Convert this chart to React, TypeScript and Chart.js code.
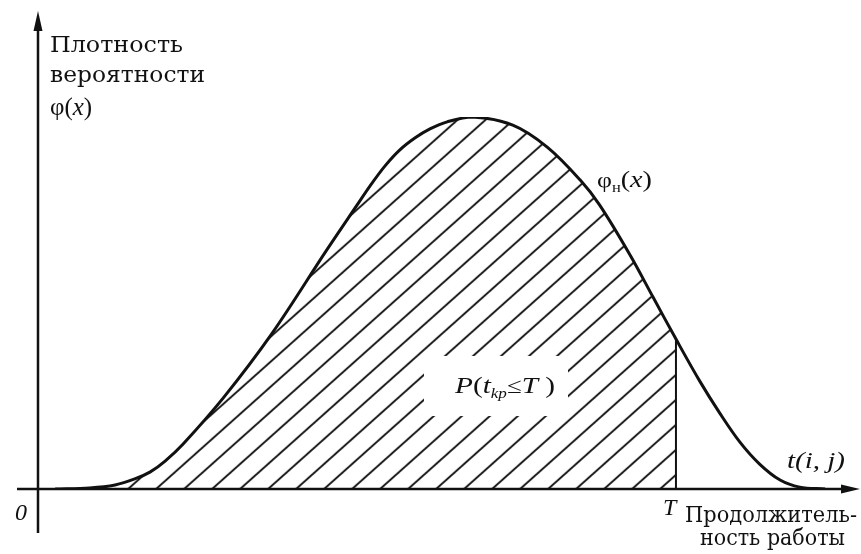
import React, { useEffect, useRef } from "react";
import { Chart, registerables } from "chart.js";

Chart.register(...registerables);

// Time axis (relative units, 0 at the density axis) and probability density (normalised, peak = 1)
const timeValues = [2.1, 6.3, 9.4, 11.8, 13.7, 15.5, 17.7, 22.6, 28.5, 35.2, 38.9, 40.5, 42.3, 44.1, 46.0, 47.8, 49.9, 53.0, 57.9, 62.1, 66.1, 68.5, 72.2, 75.0, 77.8, 80.7, 83.2, 85.6, 88.0, 90.5, 92.9, 96.0];
const densityValues = [0, 0.003, 0.011, 0.027, 0.046, 0.075, 0.121, 0.245, 0.417, 0.642, 0.763, 0.815, 0.868, 0.911, 0.944, 0.968, 0.987, 1.0, 0.978, 0.919, 0.831, 0.763, 0.629, 0.516, 0.403, 0.29, 0.202, 0.126, 0.067, 0.024, 0.005, 0];
const deadlineT = 77.8;

const yAxisTitle = ["Плотность", "вероятности"];
const xAxisTitle = ["Продолжитель-", "ность работы"];

const INK = "#111111";

type Part = { t: string; font: string; dy?: number };

function drawRun(ctx: CanvasRenderingContext2D, x: number, y: number, parts: Part[], targetW?: number) {
  let total = 0;
  for (const p of parts) {
    ctx.font = p.font;
    total += ctx.measureText(p.t).width;
  }
  const sx = targetW ? targetW / total : 1;
  ctx.save();
  ctx.translate(x, y);
  ctx.scale(sx, 1);
  let cx = 0;
  for (const p of parts) {
    ctx.font = p.font;
    ctx.fillText(p.t, cx, p.dy || 0);
    cx += ctx.measureText(p.t).width;
  }
  ctx.restore();
}

function makeHatch(): CanvasPattern | string {
  const W = 28;
  const H = 25;
  const c = document.createElement("canvas");
  c.width = W;
  c.height = H;
  const g = c.getContext("2d");
  if (!g) return "rgba(0,0,0,0.2)";
  g.strokeStyle = INK;
  g.lineWidth = 1.9;
  for (const ox of [-W, 0, W]) {
    g.beginPath();
    g.moveTo(ox - W, 2 * H);
    g.lineTo(ox + 2 * W, -H);
    g.stroke();
  }
  const pat = g.createPattern(c, "repeat");
  if (!pat) return "rgba(0,0,0,0.2)";
  try {
    pat.setTransform(new DOMMatrix([1, 0, 0, 1, 3.7, 0]));
  } catch (e) {}
  return pat;
}

const SERIF = '"DejaVu Serif", serif';
const TIMES = '"Liberation Serif", serif';

const decorPlugin = {
  id: "decor",
  beforeDatasetsDraw(chart: any) {
    const ctx: CanvasRenderingContext2D = chart.ctx;
    const xs = chart.scales.x;
    const ys = chart.scales.y;
    const x0 = xs.getPixelForValue(0);
    const y0 = ys.getPixelForValue(0);
    ctx.save();
    ctx.strokeStyle = INK;
    ctx.fillStyle = INK;
    ctx.lineWidth = 2.5;
    // y axis
    ctx.beginPath();
    ctx.moveTo(x0, 533);
    ctx.lineTo(x0, 24);
    ctx.stroke();
    ctx.beginPath();
    ctx.moveTo(x0, 11);
    ctx.lineTo(x0 - 4.5, 31);
    ctx.lineTo(x0 + 4.5, 31);
    ctx.closePath();
    ctx.fill();
    // x axis
    ctx.beginPath();
    ctx.moveTo(17, y0);
    ctx.lineTo(848, y0);
    ctx.stroke();
    ctx.beginPath();
    ctx.moveTo(860, y0);
    ctx.lineTo(841, y0 - 4.5);
    ctx.lineTo(841, y0 + 4.5);
    ctx.closePath();
    ctx.fill();
    ctx.restore();
  },
  afterDatasetsDraw(chart: any) {
    const ctx: CanvasRenderingContext2D = chart.ctx;
    const xs = chart.scales.x;
    const ys = chart.scales.y;
    const xT = xs.getPixelForValue(deadlineT);
    const y0 = ys.getPixelForValue(0);
    ctx.save();
    // clear area for probability label
    ctx.fillStyle = "#ffffff";
    ctx.fillRect(424, 356, 144, 60);
    ctx.fillStyle = INK;
    ctx.textBaseline = "alphabetic";

    // y-axis title
    drawRun(ctx, 50, 52, [{ t: yAxisTitle[0], font: `22px ${SERIF}` }], 133);
    drawRun(ctx, 50, 82, [{ t: yAxisTitle[1], font: `22px ${SERIF}` }], 155);
    drawRun(ctx, 50, 115, [
      { t: "φ(", font: `25px ${TIMES}` },
      { t: "x", font: `italic 25px ${TIMES}` },
      { t: ")", font: `25px ${TIMES}` },
    ]);

    // curve label
    drawRun(ctx, 597, 187, [
      { t: "φ", font: `22px ${TIMES}` },
      { t: "н", font: `14px ${TIMES}`, dy: 5 },
      { t: "(", font: `24px ${TIMES}` },
      { t: "x", font: `italic 24px ${TIMES}` },
      { t: ")", font: `24px ${TIMES}` },
    ], 55);

    // probability label
    drawRun(ctx, 455, 393, [
      { t: "P", font: `italic 24px ${TIMES}` },
      { t: "(", font: `24px ${TIMES}` },
      { t: "t", font: `italic 24px ${TIMES}` },
      { t: "kр", font: `italic 14px ${TIMES}`, dy: 5 },
      { t: "≤", font: `22px ${TIMES}` },
      { t: "T", font: `italic 24px ${TIMES}` },
      { t: " )", font: `24px ${TIMES}` },
    ], 100);

    // x-axis labels
    drawRun(ctx, 787, 468, [{ t: "t(i, j)", font: `italic 24px ${TIMES}` }], 58);
    drawRun(ctx, xT - 13, y0 + 26, [{ t: "T", font: `italic 24px ${TIMES}` }]);
    drawRun(ctx, 15, 520, [{ t: "0", font: `italic 24px ${TIMES}` }]);
    drawRun(ctx, 685, 522, [{ t: xAxisTitle[0], font: `22px ${SERIF}` }], 172);
    drawRun(ctx, 700, 545, [{ t: xAxisTitle[1], font: `22px ${SERIF}` }], 145);
    ctx.restore();
  },
};

export default function App() {
  const ref = useRef<HTMLCanvasElement | null>(null);

  useEffect(() => {
    const canvas = ref.current;
    if (!canvas) return;
    const curve = timeValues.map((x, i) => ({ x, y: densityValues[i] }));
    const shaded = curve.filter((p) => p.x <= deadlineT);
    const atT = densityValues[timeValues.indexOf(deadlineT)];
    const chart = new Chart(canvas, {
      type: "line",
      data: {
        datasets: [
          {
            data: curve,
            borderColor: INK,
            borderWidth: 3,
            pointRadius: 0,
            fill: false,
            tension: 0.35,
          },
          {
            data: [
              { x: deadlineT, y: 0 },
              { x: deadlineT, y: atT },
            ],
            borderColor: INK,
            borderWidth: 2,
            pointRadius: 0,
            fill: false,
          },
          {
            data: shaded,
            borderWidth: 0,
            borderColor: "rgba(0,0,0,0)",
            backgroundColor: makeHatch() as any,
            pointRadius: 0,
            fill: "origin",
            tension: 0.35,
          },
        ],
      },
      options: {
        responsive: false,
        animation: false,
        devicePixelRatio: 1,
        layout: { padding: { left: 38, right: 3, top: 117, bottom: 65 } },
        plugins: { legend: { display: false }, tooltip: { enabled: false } },
        scales: {
          x: { type: "linear", min: 0, max: 100, display: false },
          y: { type: "linear", min: 0, max: 1, display: false },
        },
      },
      plugins: [decorPlugin],
    } as any);
    return () => chart.destroy();
  }, []);

  return (
    <div style={{ position: "fixed", left: 0, top: 0, width: 861, height: 554, background: "#fff" }}>
      <canvas ref={ref} width={861} height={554} style={{ display: "block" }} />
    </div>
  );
}
